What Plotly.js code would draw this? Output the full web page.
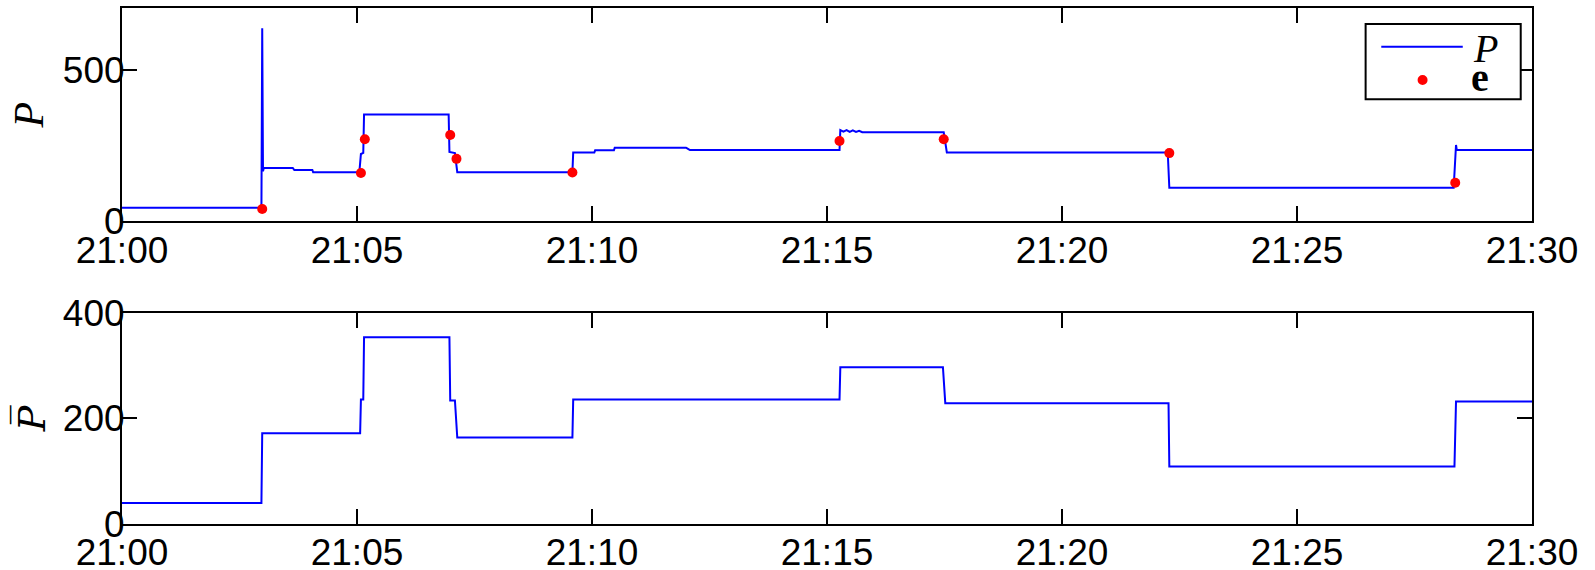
<!DOCTYPE html>
<html>
<head>
<meta charset="utf-8">
<script src="https://cdn.plot.ly/plotly-3.0.1.min.js"></script>
<style>
html,body{margin:0;padding:0;background:#fff;}
#chart{width:1595px;height:570px;}
</style>
</head>
<body>
<div id="chart"></div>
<script>
// ---- data ----
var day = "2015-01-01 ";

// instantaneous power P
var timeP = ["21:00:00","21:02:58","21:02:59","21:03:00","21:03:01","21:03:38","21:03:40","21:04:03","21:04:04",
  "21:05:03","21:05:05","21:05:08","21:05:09","21:06:57","21:06:58","21:07:05","21:07:08",
  "21:09:35","21:09:36","21:10:03","21:10:04","21:10:28","21:10:29","21:12:00","21:12:02","21:12:04","21:12:05",
  "21:15:16","21:15:17","21:15:21","21:15:25","21:15:29","21:15:33","21:15:37","21:15:41","21:15:45","21:15:50",
  "21:17:29","21:17:33","21:22:15","21:22:17","21:28:20","21:28:23","21:28:24","21:30:00"];
var valueP = [44,44,638,165,176,176,169,169,162,
  162,222,226,353,353,229,225,162,
  162,227,227,234,234,243,243,240,237,235,
  235,301,296,301,295,300,295,299,294,294,
  294,227,227,110,110,252,235,235];

// events e
var timeE = ["21:02:59","21:05:05","21:05:10","21:06:59","21:07:07","21:09:35","21:15:16","21:17:29","21:22:17","21:28:22"];
var valueE = [40,159,271,285,206,161,265,271,225,127];

// averaged power P-bar
var timeBar = ["21:00:00","21:02:58","21:02:59","21:05:04","21:05:05","21:05:08","21:05:09","21:06:58","21:06:59",
  "21:07:05","21:07:08","21:09:35","21:09:36","21:15:16","21:15:17","21:17:28","21:17:31",
  "21:22:16","21:22:17","21:28:21","21:28:23","21:30:00"];
var valueBar = [40,40,172,172,236,236,354,354,234,
  234,164,164,236,236,297,297,229,
  229,109,109,232,232];

// tick labels
var yTopTicks = [0,500];
var yBotTicks = [0,200,400];

// legend entries
var legendLabels = ["<i>P</i>", "<b>e</b>"];

function toDates(a){ return a.map(function(t){ return day + t; }); }

var blue = "#0000ff", red = "#ff0000";
var traces = [
  {x: toDates(timeP), y: valueP, type: "scatter", mode: "lines", name: "P",
   line: {color: blue, width: 2}, xaxis: "x", yaxis: "y", showlegend: false},
  {x: toDates(timeE), y: valueE, type: "scatter", mode: "markers", name: "e",
   marker: {color: red, size: 10}, xaxis: "x", yaxis: "y", showlegend: false},
  {x: toDates(timeBar), y: valueBar, type: "scatter", mode: "lines", name: "P̄",
   line: {color: blue, width: 2}, xaxis: "x2", yaxis: "y2", showlegend: false}
];

var tickFont = {family: "Liberation Sans, Arial, Helvetica, sans-serif", size: 37, color: "#000"};
var serif = "Liberation Serif, Times New Roman, serif";

function xax(anchor){
  return {
    type: "date", anchor: anchor,
    range: [day + "21:00:00", day + "21:30:00"],
    tick0: day + "21:00:00", dtick: 300000, tickformat: "%H:%M",
    showline: true, linecolor: "#000", linewidth: 2, mirror: "ticks",
    ticks: "inside", ticklen: 15, tickwidth: 2, tickcolor: "#000",
    ticklabelstandoff: -5,
    showgrid: false, zeroline: false, tickfont: tickFont
  };
}
function yax(anchor, domain, range, ticks, title, tfont){
  return {
    anchor: anchor, domain: domain, range: range,
    tickmode: "array", tickvals: ticks, ticktext: ticks.map(String),
    showline: true, linecolor: "#000", linewidth: 2, mirror: "ticks",
    ticks: "inside", ticklen: 15, tickwidth: 2, tickcolor: "#000",
    ticklabelstandoff: -12,
    showgrid: false, zeroline: false, tickfont: tickFont,
    title: {text: title, font: tfont, standoff: 6}
  };
}

// hand-drawn legend box (paper coordinates of the top panel area)
var shapes = [
  {type: "rect", xref: "paper", yref: "paper", x0: 0.882, x1: 0.992, y0: 0.823, y1: 0.969,
   line: {color: "#000", width: 2}, fillcolor: "#fff", layer: "above"},
  {type: "line", xref: "paper", yref: "paper", x0: 0.8931, x1: 0.9509, y0: 0.925, y1: 0.925,
   line: {color: blue, width: 2}, layer: "above"},
  {type: "circle", xref: "paper", yref: "paper", xsizemode: "pixel", ysizemode: "pixel",
   xanchor: 0.9224, yanchor: 0.8605, x0: -5, x1: 5, y0: -5, y1: 5,
   fillcolor: red, line: {color: red, width: 0}, layer: "above"}
];
var annotations = [
  {xref: "paper", yref: "paper", x: 0.967, y: 0.921, text: legendLabels[0], showarrow: false,
   xanchor: "center", yanchor: "middle", font: {family: serif, size: 40, color: "#000"}},
  {xref: "paper", yref: "paper", x: 0.9628, y: 0.866, text: legendLabels[1], showarrow: false,
   xanchor: "center", yanchor: "middle", font: {family: serif, size: 40, color: "#000"}}
];

var layout = {
  width: 1595, height: 570,
  margin: {l: 122, r: 62.5, t: 8, b: 46, pad: 0},
  paper_bgcolor: "#fff", plot_bgcolor: "#fff",
  showlegend: false,
  xaxis: xax("y"),
  yaxis: yax("x", [0.587, 1], [0, 705], yTopTicks, "<i>P</i>",
    {family: serif, size: 42, color: "#000"}),
  xaxis2: xax("y2"),
  yaxis2: yax("x2", [0, 0.409], [0, 400], yBotTicks, "<i>P\u0305</i>",
    {family: "DejaVu Serif, Liberation Serif, serif", size: 38, color: "#000"}),
  shapes: shapes,
  annotations: annotations
};

Plotly.newPlot("chart", traces, layout, {displayModeBar: false, staticPlot: true});
</script>
</body>
</html>
